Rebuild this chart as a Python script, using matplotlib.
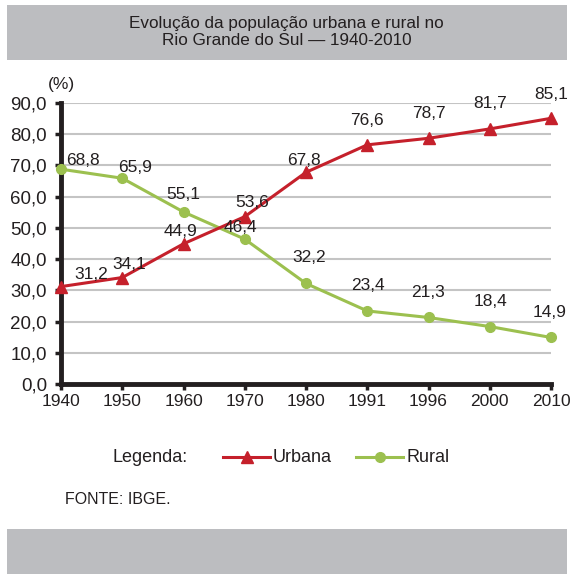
import matplotlib
matplotlib.use("Agg")
import matplotlib.pyplot as plt
from matplotlib.patches import Rectangle
from matplotlib.lines import Line2D

plt.rcParams['font.family'] = ['Liberation Sans', 'DejaVu Sans']

# === Data === #
anos = ['1940', '1950', '1960', '1970', '1980', '1991', '1996', '2000', '2010']
urbana = [31.2, 34.1, 44.9, 53.6, 67.8, 76.6, 78.7, 81.7, 85.1]
rural = [68.8, 65.9, 55.1, 46.4, 32.2, 23.4, 21.3, 18.4, 14.9]
y_ticks = [0, 10, 20, 30, 40, 50, 60, 70, 80, 90]

# label offsets in pixels (dx, dy) from the point to the label centre
urb_off = [(30, 12), (7, 13), (-3, 12), (7, 14), (-2, 12), (0, 24), (0, 25), (0, 25), (0, 24)]
rur_off = [(22, 9), (13, 11), (0, 17), (-4, 12), (3, 26), (1, 25), (0, 25), (1, 25), (-1, 25)]

RED = '#c5202b'
GREEN = '#9cc04f'
GRAY_BAND = '#bcbdc0'
TXT = '#231f20'
FS = 12.5

fig = plt.figure(figsize=(5.73, 5.74), dpi=100)
W, H = 573, 574


def fx(px):
    return px / W


def fy(py):
    return 1 - py / H


# === Gray bands === #
fig.patches.append(Rectangle((fx(7), fy(60)), fx(560), 55 / H, transform=fig.transFigure,
                             facecolor=GRAY_BAND, edgecolor='none', zorder=0))
fig.patches.append(Rectangle((fx(7), 0), fx(560), 45 / H, transform=fig.transFigure,
                             facecolor=GRAY_BAND, edgecolor='none', zorder=0))

fig.text(0.5, fy(32), "Evolução da população urbana e rural no\nRio Grande do Sul — 1940-2010",
         ha='center', va='center', fontsize=12.3, color=TXT, linespacing=1.1)

# === Axes === #
ax = fig.add_axes([fx(61), fy(384), fx(490), 281 / H])
x = list(range(len(anos)))

for v in y_ticks[1:]:
    ax.axhline(v, color='#c4c4c4', linewidth=1.5, zorder=1)

ax.plot(x, rural, color=GREEN, linewidth=2.2, marker='o', markersize=7, zorder=3, clip_on=False)
ax.plot(x, urbana, color=RED, linewidth=2.2, marker='^', markersize=9, zorder=4, clip_on=False)

for i in x:
    ax.annotate(f"{urbana[i]:.1f}".replace('.', ','), (i, urbana[i]), xytext=urb_off[i],
                textcoords='offset pixels', ha='center', va='center', fontsize=FS, color=TXT,
                zorder=5, annotation_clip=False)
    ax.annotate(f"{rural[i]:.1f}".replace('.', ','), (i, rural[i]), xytext=rur_off[i],
                textcoords='offset pixels', ha='center', va='center', fontsize=FS, color=TXT,
                zorder=5, annotation_clip=False)

ax.set_xlim(0, len(anos) - 1)
ax.set_ylim(0, 90)
ax.set_xticks(x)
ax.set_xticklabels(anos)
ax.set_yticks(y_ticks)
ax.set_yticklabels([f"{v:.1f}".replace('.', ',') for v in y_ticks])
ax.tick_params(axis='both', colors=TXT, width=2.5, length=4, direction='out')
ax.tick_params(axis='x', labelsize=FS, pad=3)
ax.tick_params(axis='y', labelsize=13.5, pad=6)
for s in ['top', 'right']:
    ax.spines[s].set_visible(False)
for s in ['left', 'bottom']:
    ax.spines[s].set_linewidth(3.5)
    ax.spines[s].set_color(TXT)

fig.text(fx(61), fy(84), "(%)", ha='center', va='center', fontsize=FS, color=TXT)

# === Legend (drawn by hand) === #
ly = fy(457)
fig.text(fx(112), ly, "Legenda:", ha='left', va='center', fontsize=13, color=TXT)
fig.add_artist(Line2D([fx(223), fx(270)], [ly, ly], color=RED, linewidth=2.2))
fig.add_artist(Line2D([fx(246.5)], [ly], color=RED, marker='^', markersize=8))
fig.text(fx(273), ly, "Urbana", ha='left', va='center', fontsize=13, color=TXT)
fig.add_artist(Line2D([fx(356), fx(403)], [ly, ly], color=GREEN, linewidth=2.2))
fig.add_artist(Line2D([fx(379.5)], [ly], color=GREEN, marker='o', markersize=7))
fig.text(fx(407), ly, "Rural", ha='left', va='center', fontsize=13, color=TXT)

fig.text(fx(65), fy(500), "FONTE: IBGE.", ha='left', va='center', fontsize=11.5, color=TXT)

fig.savefig("out.png", dpi=100)
